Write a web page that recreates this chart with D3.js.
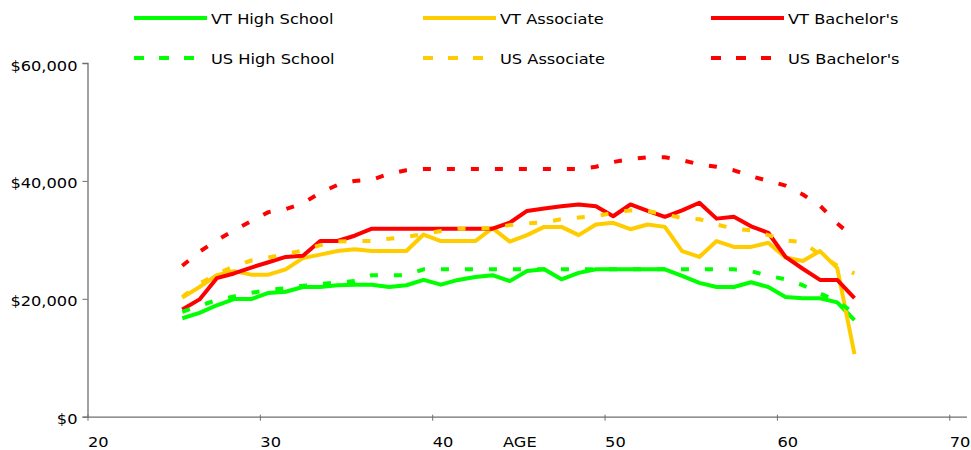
<!DOCTYPE html>
<html>
<head>
<meta charset="utf-8">
<script src="https://cdn.jsdelivr.net/npm/d3@7"></script>
<style>
  html, body { margin: 0; padding: 0; background: #fff; }
  svg { display: block; }
  text { font-family: "DejaVu Sans", Verdana, sans-serif; font-size: 14.5px; fill: #000; }
</style>
</head>
<body>
<svg id="chart" width="971" height="450"></svg>
<script>
// ---------- data ----------
const ages = [25,26,27,28,29,30,31,32,33,34,35,36,37,38,39,40,41,42,43,44,
              45,46,47,48,49,50,51,52,53,54,55,56,57,58,59,60,61,62,63,64];

const vtHighSchool = [16700,17600,18900,19950,19950,21000,21200,22000,22000,22300,
                      22400,22400,22000,22300,23200,22400,23200,23700,24000,23000,
                      24700,25000,23300,24400,25000,25000,25000,25000,25000,23900,
                      22700,22000,22000,22800,22000,20300,20100,20100,19400,16400];
const vtAssociate = [20200,22000,24000,24700,24100,24100,25000,26900,27500,28100,
                     28400,28100,28100,28100,30900,29800,29800,29800,32000,29700,
                     30800,32200,32200,30800,32600,32900,31800,32600,32200,28100,
                     27100,29800,28800,28800,29500,27000,26400,28100,25200,10600];
const vtBachelors = [18200,19900,23500,24300,25300,26200,27100,27300,29800,29800,
                     30700,31900,31900,31900,31900,31900,31900,31900,31900,32900,
                     34900,35300,35700,36000,35700,34000,36000,34900,33900,35000,
                     36300,33600,33900,32300,31200,27100,25100,23200,23200,20100];
const usHighSchool = [17800,18800,19800,20400,21000,21500,21800,22200,22500,22800,
                      23000,24000,24000,24000,25000,25000,25000,25000,25000,25000,
                      25000,25000,25000,25000,25000,25000,25000,25000,25000,25000,
                      25000,25000,25000,24700,23900,23300,22300,20900,19600,17500];
const usAssociate = [20300,22600,24200,25500,26500,27000,27600,28200,29100,29700,
                     29800,29800,30200,30500,31000,31500,31900,31900,32000,32500,
                     32800,33000,33500,33800,34000,34600,35000,34900,34300,33700,
                     33500,32600,31900,31600,30800,29900,29600,27500,25600,24300];
const usBachelors = [25600,28000,29900,31600,33200,34700,35200,36200,38000,39300,
                     40000,40200,41200,41800,42000,42000,42000,42000,42000,42000,
                     42000,42000,42000,42000,42400,43200,43700,44000,44000,43500,
                     42800,42400,41800,40800,40000,39200,37700,35800,32800,30300];

const xTicks = [20, 30, 40, 50, 60, 70];
const yTicks = [0, 20000, 40000, 60000];
const seriesNames = ["VT High School", "VT Associate", "VT Bachelor's",
                     "US High School", "US Associate", "US Bachelor's"];
const seriesColors = ["#00FF00", "#FFCC00", "#FF0000", "#00FF00", "#FFCC00", "#FF0000"];
const seriesDashed = [false, false, false, true, true, true];
const seriesValues = [vtHighSchool, vtAssociate, vtBachelors, usHighSchool, usAssociate, usBachelors];
const xTitle = "AGE";

// ---------- layout ----------
const svg = d3.select("#chart");
const SX = 1.12; // horizontal text stretch seen in the reference
const x = d3.scaleLinear().domain([20, 71]).range([87.5, 966.5]);
const y = d3.scaleLinear().domain([0, 60000]).range([416.7, 63]);
const fmt = v => "$" + d3.format(",")(v);

// y axis
const gy = svg.append("g").attr("transform", "translate(87.5,0)")
  .call(d3.axisLeft(y).tickValues(yTicks).tickSize(5).tickPadding(5).tickFormat(fmt));
gy.select(".domain").attr("stroke", "#6e6e6e").attr("stroke-width", 1.3);
gy.selectAll(".tick line").attr("stroke", "#6e6e6e");
gy.selectAll(".tick text")
  .attr("x", null).attr("dy", null)
  .attr("text-anchor", "end")
  .attr("transform", `translate(-10,7) scale(${SX},1)`)
  .style("font-family", null).style("font-size", null).attr("font-family", null).attr("font-size", null);
gy.attr("font-family", null).attr("font-size", null);

// x axis
const gx = svg.append("g").attr("transform", `translate(0,${y(0)})`)
  .call(d3.axisBottom(x).tickValues(xTicks).tickSize(4).tickSizeOuter(0));
gx.select(".domain").attr("stroke", "#6e6e6e").attr("stroke-width", 1.3);
gx.selectAll(".tick line").attr("stroke", "#6e6e6e").attr("y1", -2);
gx.selectAll(".tick text")
  .attr("y", null).attr("dy", null)
  .attr("text-anchor", "start")
  .attr("transform", `translate(0,30) scale(${SX},1)`);
gx.attr("font-family", null).attr("font-size", null);

svg.append("text")
  .attr("transform", `translate(503,${y(0) + 30}) scale(${SX},1)`)
  .text(xTitle);

// ---------- lines ----------
const line = d3.line()
  .x((d, i) => x(ages[i] + 0.5))
  .y(d => y(d));

seriesValues.forEach((vals, k) => {
  svg.append("path")
    .datum(vals)
    .attr("d", line)
    .attr("fill", "none")
    .attr("stroke", seriesColors[k])
    .attr("stroke-width", 4)
    .attr("stroke-linejoin", "round")
    .attr("stroke-dasharray", seriesDashed[k] ? "8,16" : null);
});

// ---------- legend ----------
const legX = [134, 423, 711];
const legY = [18, 58];
seriesNames.forEach((name, k) => {
  const col = k % 3, row = Math.floor(k / 3);
  const g = svg.append("g").attr("transform", `translate(${legX[col]},${legY[row]})`);
  g.append("line")
    .attr("x1", 0).attr("x2", 73).attr("y1", 0).attr("y2", 0)
    .attr("stroke", seriesColors[k]).attr("stroke-width", 4)
    .attr("stroke-dasharray", seriesDashed[k] ? "10,15" : null);
  g.append("text")
    .attr("transform", `translate(77,5.5) scale(${SX},1)`)
    .text(name);
});
</script>
</body>
</html>
